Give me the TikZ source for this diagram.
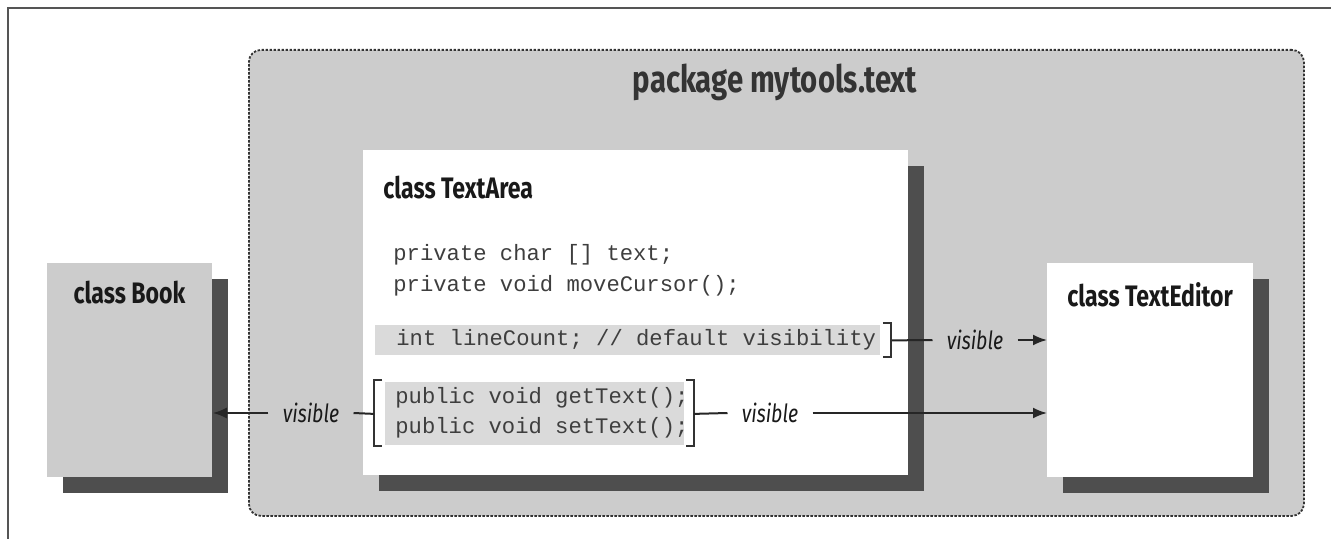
\documentclass[tikz,border=0pt]{standalone}
\usepackage{fontspec}
\usepackage{tikz}
\usetikzlibrary{arrows.meta, calc, shadows}
\newfontfamily\diagfont[FakeStretch=0.78]{Fira Sans}
\setmonofont{Liberation Mono}
\definecolor{pkgfill}{RGB}{204,204,204}
\definecolor{bandfill}{RGB}{218,218,218}
\definecolor{shade}{RGB}{78,78,78}
\definecolor{codegray}{RGB}{62,62,62}
\definecolor{titlegray}{RGB}{52,52,52}
\definecolor{framegray}{RGB}{85,85,85}

\tikzset{
  pkgbox/.style={fill=pkgfill, draw=black!80, line width=0.9pt,
    dash pattern=on 1.2pt off 0.8pt, rounded corners=6pt, inner sep=0pt},
  classbox/.style={inner sep=0pt,
    drop shadow={shadow xshift=8pt, shadow yshift=-8pt, fill=shade, opacity=1}},
  classname/.style={font=\diagfont\bfseries\fontsize{14.8}{17}\selectfont,
    text=black!90, inner sep=0pt},
  code/.style={font=\ttfamily\fontsize{11.1}{15}\selectfont, text=codegray,
    anchor=west, inner sep=0pt},
  band/.style={fill=bandfill, inner sep=0pt, anchor=north west},
  bracket/.style={line width=1.2pt, black!80},
  vis/.style={font=\diagfont\itshape\fontsize{12.5}{14}\selectfont,
    text=black!90, inner xsep=7pt, inner ysep=0pt},
  conn/.style={line width=1pt, black!85},
  arr/.style={conn, -{Latex[length=7pt, width=5.5pt]}}
}

\begin{document}
\begin{tikzpicture}[x=0.5pt, y=-0.5pt]
  \useasboundingbox (0,0) rectangle (1331,539);
  % frame
  \draw[framegray, line width=1.25pt] (8,539) -- (8,8) -- (1331,8);

  % package mytools.text
  \node[pkgbox, minimum width=527.5pt, minimum height=233pt, anchor=north west]
       (pkg) at (248,49) {};
  \node[font=\diagfont\bfseries\fontsize{18.8}{21}\selectfont, text=titlegray]
       (pkgtitle) at (775,82) {package mytools.text};

  % class Book
  \node[classbox, fill=pkgfill, minimum width=82.5pt, minimum height=107pt,
        anchor=north west] (book) at (47,263) {};
  \node[classname] (booktitle) at (129.5,293) {class Book};

  % class TextArea
  \node[classbox, fill=white, minimum width=272.5pt, minimum height=162.5pt,
        anchor=north west] (area) at (363,150) {};
  \node[classname, anchor=west] (areatitle) at (383,188) {class TextArea};
  \node[code] (priv1) at (393,255) {private char [] text;};
  \node[code] (priv2) at (393,286) {private void moveCursor();};

  % default visibility
  \node[band, minimum width=252.5pt, minimum height=15pt] (band1) at (375,325) {};
  \node[code] (pkgline) at (396,340) {int lineCount; // default visibility};
  \draw[bracket] ($(band1.north east)+(2,-2)$) -- ++(8,0) -- ++(0,34) -- ++(-8,0);

  % public methods
  \node[band, minimum width=149.5pt, minimum height=31.5pt] (band2) at (385,382) {};
  \node[code] (pub1) at (395,398) {public void getText();};
  \node[code] (pub2) at (395,428) {public void setText();};
  \draw[bracket] ($(band2.north west)+(-3,-2)$) -- ++(-8,0) -- ++(0,66) -- ++(8,0);
  \draw[bracket] ($(band2.north east)+(1,-2)$) -- ++(8,0) -- ++(0,66) -- ++(-8,0);

  % class TextEditor
  \node[classbox, fill=white, minimum width=103pt, minimum height=107pt,
        anchor=north west] (editor) at (1047,263) {};
  \node[classname] (editortitle) at (1150,295) {class TextEditor};

  % visibility arrows
  \coordinate (b1out) at ($(band1.east)+(11,0)$);
  \coordinate (b2right) at ($(band2.east)+(9,0)$);
  \coordinate (b2left) at ($(band2.west)+(-11,0)$);
  \node[vis] (vis1) at (975,340) {visible};
  \node[vis] (vis2) at (770,413) {visible};
  \node[vis] (vis3) at (311,413) {visible};
  \draw[conn] (b1out) -- (vis1.west);
  \draw[arr] (vis1.east) -- (vis1.east -| editor.west);
  \draw[conn] (b2right) -- (vis2.west);
  \draw[arr] (vis2.east) -- (vis2.east -| editor.west);
  \draw[conn] (b2left) -- (vis3.east);
  \draw[arr] (vis3.west) -- (vis3.west -| book.east);
\end{tikzpicture}
\end{document}
